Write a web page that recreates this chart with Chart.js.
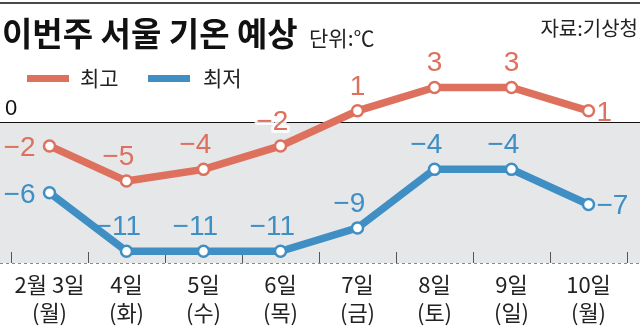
<!DOCTYPE html>
<html>
<head>
<meta charset="utf-8">
<script src="https://cdn.jsdelivr.net/npm/chart.js@4.4.1/dist/chart.umd.min.js"></script>
<style>
  html, body { margin: 0; padding: 0; background: #fff; }
</style>
</head>
<body>
<canvas id="c" width="640" height="335"></canvas>
<script>
// data
const days = [['2월 3일', '(월)'], ['4일', '(화)'], ['5일', '(수)'], ['6일', '(목)'], ['7일', '(금)'], ['8일', '(토)'], ['9일', '(일)'], ['10일', '(월)']];
const highTemps = [-2, -5, -4, -2, 1, 3, 3, 1];
const lowTemps = [-6, -11, -11, -11, -9, -4, -4, -7];
const seriesNames = ['최고', '최저'];
const titleText = '이번주 서울 기온 예상';
const unitText = '단위:℃';
const sourceText = '자료:기상청';
const zeroText = '0';

const RED = '#dd715e';
const BLUE = '#3f8fc4';
const KR = '"Noto Sans CJK KR", "Noto Sans", sans-serif';
const NUM = '"Liberation Sans", Arial, sans-serif';
const MINUS = '\u2212';

// title, legend, grey band below zero, bottom dashes and tick marks
const backdrop = {
  id: 'backdrop',
  beforeDraw(chart) {
    const { ctx, chartArea: a, scales: { y } } = chart;
    const W = chart.width;
    const zeroY = Math.round(y.getPixelForValue(0));
    ctx.save();
    ctx.fillStyle = '#fff';
    ctx.fillRect(0, 0, W, chart.height);

    // top rule
    ctx.fillStyle = '#4a4a4a';
    ctx.fillRect(0, 2, W, 2);

    // titles
    ctx.fillStyle = '#111';
    ctx.textBaseline = 'alphabetic';
    ctx.font = 'bold 33px ' + KR;
    ctx.fillText(titleText, 2, 46);
    ctx.fillStyle = '#222';
    ctx.font = '21px ' + KR;
    ctx.fillText(unitText, 309, 46);
    ctx.textAlign = 'right';
    ctx.font = '20px ' + KR;
    ctx.fillText(sourceText, 638, 36);
    ctx.textAlign = 'left';

    // legend
    const cols = [RED, BLUE];
    const sw = [27, 148], tx = [80, 203];
    ctx.font = '21px ' + KR;
    seriesNames.forEach((n, i) => {
      ctx.fillStyle = cols[i];
      ctx.fillRect(sw[i], 75, 42, 7);
      ctx.fillStyle = '#222';
      ctx.fillText(n, tx[i], 86);
    });

    // grey band
    ctx.fillStyle = '#e6e7e9';
    ctx.fillRect(0, zeroY, W, a.bottom - zeroY);

    // zero label
    ctx.fillStyle = '#111';
    ctx.font = '22px ' + NUM;
    ctx.fillText(zeroText, 5, 115);

    // dashed bottom line
    ctx.strokeStyle = '#8a8a8a';
    ctx.lineWidth = 1;
    ctx.setLineDash([3, 3]);
    ctx.beginPath();
    ctx.moveTo(0, a.bottom + 0.5);
    ctx.lineTo(W, a.bottom + 0.5);
    ctx.stroke();
    ctx.setLineDash([]);

    // short tick marks at category borders
    ctx.strokeStyle = '#555';
    const n = days.length;
    const step = (a.right - a.left) / n;
    for (let i = 0; i <= n; i++) {
      const px = Math.round(a.left + i * step) + 0.5;
      ctx.beginPath();
      ctx.moveTo(px, a.bottom - 11);
      ctx.lineTo(px, a.bottom);
      ctx.stroke();
    }
    ctx.restore();
  },
  beforeDatasetsDraw(chart) {
    const { ctx, scales: { y } } = chart;
    const zeroY = Math.round(y.getPixelForValue(0));
    ctx.save();
    ctx.fillStyle = '#111';
    ctx.fillRect(0, zeroY - 1, chart.width, 1);
    ctx.restore();
  }
};

// value labels next to each point; digits centred over the point, minus hangs left
const valueLabels = {
  id: 'valueLabels',
  afterDatasetsDraw(chart) {
    const { ctx, scales: { y } } = chart;
    const zeroY = y.getPixelForValue(0);
    ctx.save();
    ctx.font = '28px ' + NUM;
    ctx.textBaseline = 'alphabetic';
    ctx.textAlign = 'left';
    const minusW = ctx.measureText(MINUS).width;
    chart.data.datasets.forEach((ds, di) => {
      const meta = chart.getDatasetMeta(di);
      const last = meta.data.length - 1;
      meta.data.forEach((pt, i) => {
        const v = ds.data[i];
        const digits = String(Math.abs(v));
        const txt = v < 0 ? MINUS + digits : digits;
        const fullW = ctx.measureText(txt).width;
        const digW = ctx.measureText(digits).width;
        let px, py;
        if (i === 0) { px = pt.x - 14 - fullW; py = pt.y + 10; }
        else if (i === last) { px = pt.x + 8; py = pt.y + 10; }
        else { px = pt.x - digW / 2 - (v < 0 ? minusW : 0); py = pt.y - 16; }
        if (py - 20 < zeroY && py > zeroY) {
          ctx.strokeStyle = 'rgba(255,255,255,0.85)';
          ctx.lineWidth = 6;
          ctx.lineJoin = 'round';
          ctx.strokeText(txt, px, py);
        }
        ctx.fillStyle = ds.borderColor;
        ctx.fillText(txt, px, py);
      });
    });
    ctx.restore();
  }
};

new Chart(document.getElementById('c'), {
  type: 'line',
  data: {
    labels: days,
    datasets: [
      { label: seriesNames[0], data: highTemps, borderColor: RED, backgroundColor: '#fff',
        borderWidth: 7.5, pointRadius: 5.5, pointBorderWidth: 2.5, pointBackgroundColor: '#fff',
        pointBorderColor: RED, tension: 0, clip: false },
      { label: seriesNames[1], data: lowTemps, borderColor: BLUE, backgroundColor: '#fff',
        borderWidth: 7.5, pointRadius: 5.5, pointBorderWidth: 2.5, pointBackgroundColor: '#fff',
        pointBorderColor: BLUE, tension: 0, clip: false }
    ]
  },
  options: {
    responsive: false,
    animation: false,
    devicePixelRatio: 1,
    layout: { padding: { top: 64, left: 11, right: 13, bottom: 0 } },
    plugins: { legend: { display: false }, tooltip: { enabled: false }, title: { display: false } },
    scales: {
      x: {
        offset: true,
        grid: { display: false },
        border: { display: false },
        ticks: { color: '#222', padding: 0, font: { family: KR, size: 22, lineHeight: 1.25 }, maxRotation: 0, autoSkip: false },
        afterFit: s => { s.height = 72; }
      },
      y: { display: false, min: -12, max: 5 }
    }
  },
  plugins: [backdrop, valueLabels]
});
</script>
</body>
</html>
